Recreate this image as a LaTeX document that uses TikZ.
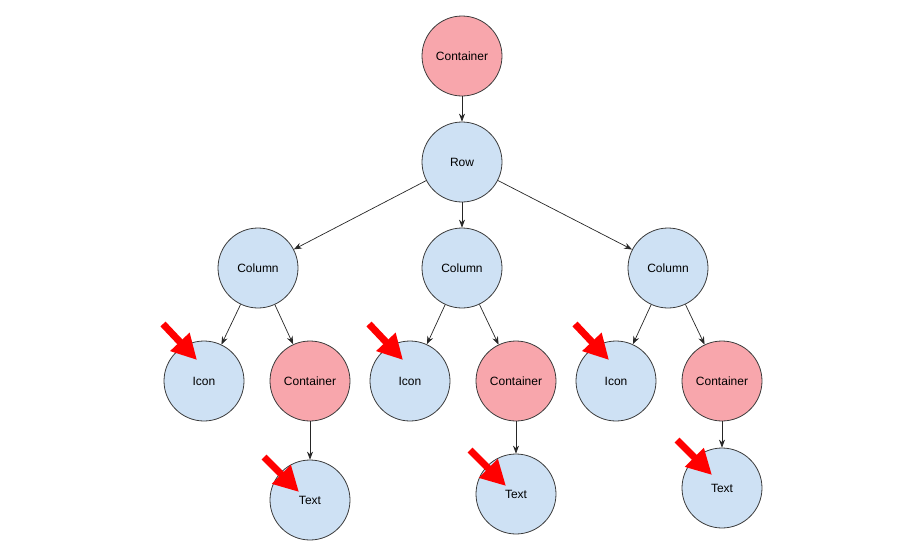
\documentclass[tikz,border=0pt]{standalone}
\usepackage{fontspec}
\setmainfont{Liberation Sans}
\usetikzlibrary{arrows.meta}
\definecolor{nodeblue}{RGB}{206,225,244}
\definecolor{nodepink}{RGB}{248,166,172}
\definecolor{edgegray}{RGB}{60,60,60}
\tikzset{
  bnode/.style={circle, draw=edgegray, line width=0.8pt, fill=nodeblue, minimum size=80pt, inner sep=0pt, font=\fontsize{12}{14}\selectfont},
  pnode/.style={bnode, fill=nodepink},
  link/.style={draw=black!85, line width=0.7pt, -{Stealth[length=8pt,width=6pt]}},
  pointer/.style={draw=red, line width=7pt, -{Triangle[length=25pt,width=25pt]}}
}
\begin{document}
\begin{tikzpicture}[x=1pt,y=-1pt]
\useasboundingbox (0,0) rectangle (924,552);
\node[pnode] (top) at (462,56) {Container};
\node[bnode] (row) at (462,162) {Row};
\node[bnode] (col1) at (258,268) {Column};
\node[bnode] (col2) at (462,268) {Column};
\node[bnode] (col3) at (668,268) {Column};
\node[bnode] (icon1) at (204,381) {Icon};
\node[pnode] (cont1) at (310,381) {Container};
\node[bnode] (icon2) at (410,381) {Icon};
\node[pnode] (cont2) at (516,381) {Container};
\node[bnode] (icon3) at (616,381) {Icon};
\node[pnode] (cont3) at (722,381) {Container};
\node[bnode] (text1) at (310,500) {Text};
\node[bnode] (text2) at (516,494) {Text};
\node[bnode] (text3) at (722,488) {Text};

\draw[link] (top) -- (row);
\draw[link] (row) -- (col1);
\draw[link] (row) -- (col2);
\draw[link] (row) -- (col3);
\draw[link] (col1) -- (icon1);
\draw[link] (col1) -- (cont1);
\draw[link] (col2) -- (icon2);
\draw[link] (col2) -- (cont2);
\draw[link] (col3) -- (icon3);
\draw[link] (col3) -- (cont3);
\draw[link] (cont1) -- (text1);
\draw[link] (cont2) -- (text2);
\draw[link] (cont3) -- (text3);

\coordinate (p1s) at (163,324); \coordinate (p1e) at (197,360);
\coordinate (p2s) at (369,324); \coordinate (p2e) at (403,360);
\coordinate (p3s) at (575,324); \coordinate (p3e) at (609,360);
\coordinate (p4s) at (264,457); \coordinate (p4e) at (299,492);
\coordinate (p5s) at (470,450); \coordinate (p5e) at (506,486);
\coordinate (p6s) at (677,440); \coordinate (p6e) at (712,475);
\foreach \i in {1,...,6} \draw[pointer] (p\i s) -- (p\i e);
\end{tikzpicture}
\end{document}
